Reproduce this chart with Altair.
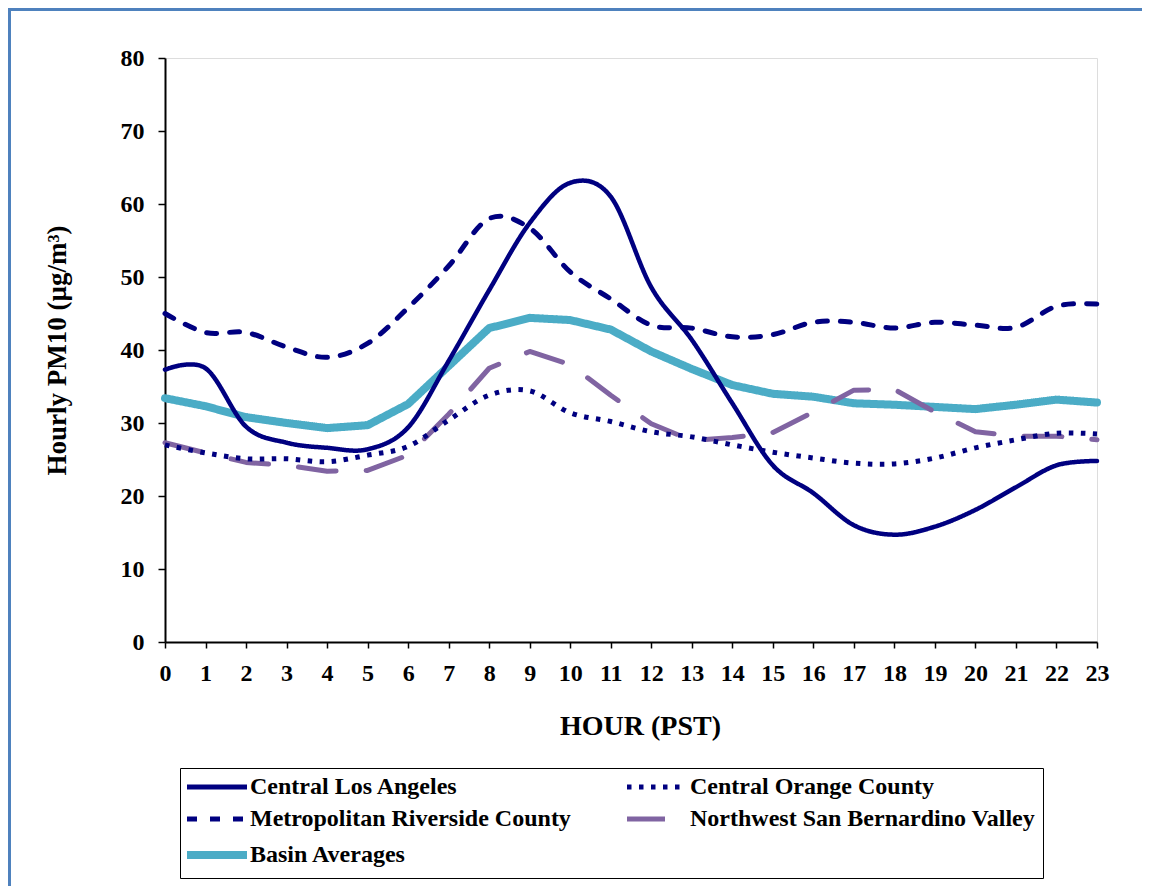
import altair as alt
import pandas as pd

hours = list(range(24))
series_names = [
    "Central Los Angeles",
    "Central Orange County",
    "Metropolitan Riverside County",
    "Northwest San Bernardino Valley",
    "Basin Averages",
]
central_la = [37.3, 37.5, 29.5, 27.3, 26.6, 26.4, 29.4, 38.5, 48.2, 57.4, 62.9, 61.0,
              48.6, 41.4, 32.7, 24.2, 20.4, 16.0, 14.7, 15.8, 18.1, 21.2, 24.2, 24.8]
central_orange = [27.0, 25.9, 25.1, 25.1, 24.7, 25.6, 26.8, 30.4, 33.8, 34.4, 31.4, 30.2,
                  28.8, 28.1, 27.0, 26.0, 25.2, 24.5, 24.4, 25.2, 26.6, 27.7, 28.6, 28.5]
riverside = [45.0, 42.4, 42.4, 40.4, 39.0, 40.9, 45.8, 51.5, 58.0, 56.7, 50.7, 47.0,
             43.4, 43.0, 41.8, 42.1, 43.8, 43.8, 43.0, 43.8, 43.4, 43.1, 46.0, 46.3]
san_bernardino = [27.3, 25.9, 24.6, 24.2, 23.4, 23.5, 25.6, 31.2, 37.5, 39.8, 38.0, 33.8,
                  29.9, 27.6, 28.0, 28.7, 31.5, 34.5, 34.6, 31.5, 28.8, 28.2, 28.2, 27.7]
basin = [33.4, 32.3, 30.8, 30.0, 29.3, 29.7, 32.6, 37.8, 43.0, 44.4, 44.1, 42.8,
         39.8, 37.4, 35.2, 34.0, 33.6, 32.7, 32.5, 32.2, 31.9, 32.5, 33.2, 32.8]

colors = ["#000080", "#000080", "#000080", "#8064A2", "#4BACC6"]
dashes = [[1, 0], [4.5, 7.5], [10, 13], [38, 30], [1, 0]]
widths = [4.5, 5, 5, 5, 8]
caps = ["round", "butt", "round", "round", "round"]
interps = ["cardinal", "cardinal", "cardinal", "linear", "linear"]

all_values = [central_la, central_orange, riverside, san_bernardino, basin]
rows = []
for name, vals in zip(series_names, all_values):
    for h, v in zip(hours, vals):
        rows.append({"hour": h, "value": v, "series": name})
df = pd.DataFrame(rows)

FONT = "Liberation Serif"

x_axis = alt.Axis(
    values=hours, title="HOUR (PST)", grid=False, labelFont=FONT, labelFontSize=24,
    labelFontWeight="bold", labelColor="black", labelPadding=13, labelFlush=False,
    tickSize=6, tickColor="black", tickWidth=1.5, domainColor="black", domainWidth=2,
    titleFont=FONT, titleFontSize=28, titleFontWeight="bold", titleColor="black",
    titleX=475, titleY=84, titleBaseline="middle", titleAlign="center",
)
y_axis = alt.Axis(
    values=list(range(0, 81, 10)), title="Hourly PM10 (µg/m³)", grid=False,
    labelFont=FONT, labelFontSize=24, labelFontWeight="bold", labelColor="black",
    labelPadding=14, tickSize=7, tickColor="black", tickWidth=1.5,
    domainColor="black", domainWidth=2,
    titleFont=FONT, titleFontSize=27, titleFontWeight="bold", titleColor="black",
    titleX=-108, titleY=292, titleAngle=270, titleBaseline="middle", titleAlign="center",
)

legend = alt.Legend(
    title=None, orient="none", legendX=15, legendY=710, columns=2,
    direction="horizontal",
    labelFont=FONT, labelFontSize=24, labelFontWeight="bold", labelColor="black",
    labelLimit=600, symbolSize=3600, symbolType="stroke",
    symbolOffset=18, labelOffset=21,
    columnPadding=46, rowPadding=8, padding=7,
    fillColor="white", strokeColor="black",
    symbolStrokeWidth={"expr": "datum.value === 'Basin Averages' ? 8 : 5"},
)

color_scale = alt.Scale(domain=series_names, range=colors)
dash_scale = alt.Scale(domain=series_names, range=dashes)

layers = []
order = [4, 3, 1, 2, 0]
for i in order:
    name = series_names[i]
    layers.append(
        alt.Chart(df)
        .transform_filter(alt.datum.series == name)
        .mark_line(strokeWidth=widths[i], interpolate=interps[i], strokeCap=caps[i],
                   strokeJoin="round")
        .encode(
            x=alt.X("hour:Q", scale=alt.Scale(domain=[0, 23], nice=False, zero=False), axis=x_axis),
            y=alt.Y("value:Q", scale=alt.Scale(domain=[0, 80], nice=False), axis=y_axis),
            color=alt.Color("series:N", scale=color_scale, legend=legend),
            strokeDash=alt.StrokeDash("series:N", scale=dash_scale, legend=legend),
        )
    )

frame_left = alt.Chart(df).mark_rule(color="#4F81BD", strokeWidth=3).encode(
    x=alt.value(-156), y=alt.value(-50), y2=alt.value(836))
frame_top = alt.Chart(df).mark_rule(color="#4F81BD", strokeWidth=3).encode(
    x=alt.value(-157), x2=alt.value(977), y=alt.value(-49))

chart = alt.layer(frame_left, frame_top, *layers).properties(
    width=932, height=584,
    autosize=alt.AutoSizeParams(type="none"),
    padding={"left": 157, "top": 50, "right": 46, "bottom": 244},
).configure_view(stroke="black", strokeWidth=2).configure(background="white")

chart.save("out.html", embed_options={"renderer": "svg", "actions": False})
